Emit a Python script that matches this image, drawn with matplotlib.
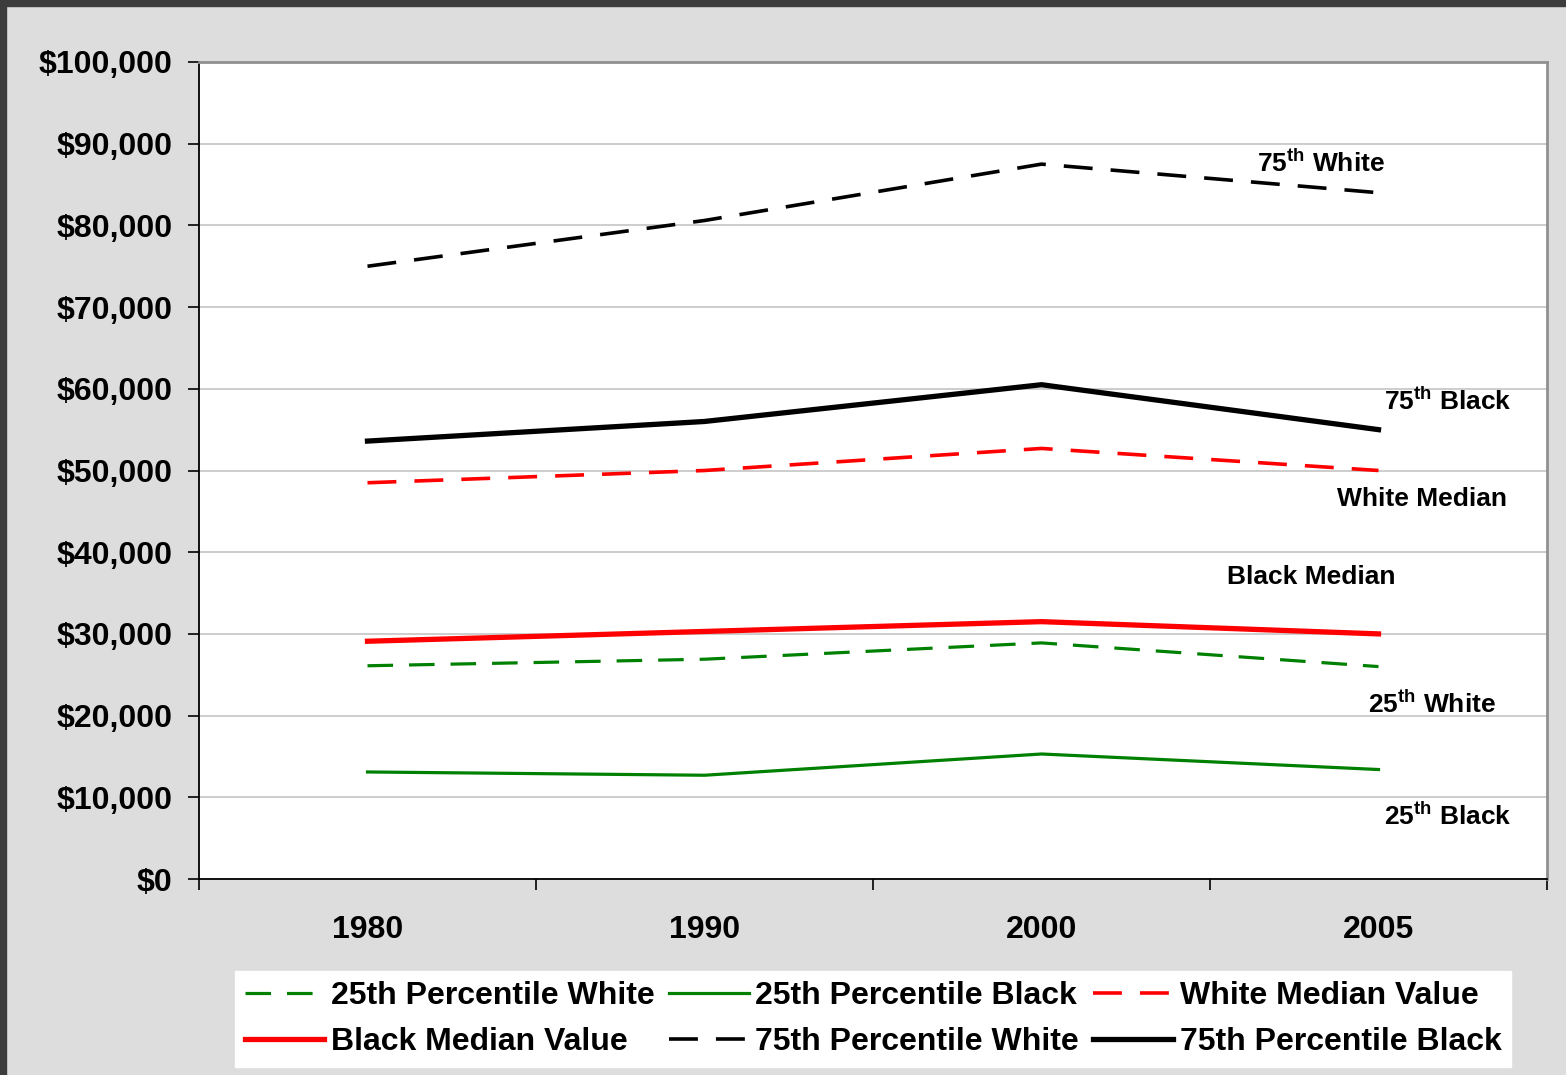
import matplotlib
matplotlib.use('Agg')
import matplotlib.pyplot as plt
from matplotlib.patches import Rectangle
from matplotlib.ticker import FuncFormatter

plt.rcParams['font.family'] = ['Liberation Sans', 'DejaVu Sans']
plt.rcParams['font.weight'] = 'bold'
plt.rcParams['mathtext.fontset'] = 'custom'
plt.rcParams['mathtext.rm'] = 'Liberation Sans:bold'
plt.rcParams['mathtext.it'] = 'Liberation Sans:bold'
plt.rcParams['mathtext.bf'] = 'Liberation Sans:bold'

years = ['1980', '1990', '2000', '2005']
p25_white = [26100, 26900, 28900, 26000]
p25_black = [13100, 12700, 15300, 13400]
white_median = [48500, 50000, 52700, 50000]
black_median = [29100, 30300, 31500, 30000]
p75_white = [75000, 80600, 87500, 84000]
p75_black = [53600, 56000, 60500, 55000]

labels = ['25th Percentile White', '25th Percentile Black', 'White Median Value',
          'Black Median Value', '75th Percentile White', '75th Percentile Black']

# end-of-line annotations (text, x category, y value)
notes = [(r'75$^{\mathrm{th}}$ White', 2.83, 87600),
         (r'75$^{\mathrm{th}}$ Black', 3.205, 58500),
         ('White Median', 3.13, 46500),
         ('Black Median', 2.80, 37000),
         (r'25$^{\mathrm{th}}$ White', 3.16, 21400),
         (r'25$^{\mathrm{th}}$ Black', 3.205, 7600)]

fig = plt.figure(figsize=(15.66, 10.75), dpi=100)
fig.patch.set_facecolor('#dddddd')
# dark frame strips at top and left
fig.patches.append(Rectangle((0, 1 - 6/1075), 1, 6/1075, transform=fig.transFigure,
                             color='#3c3c3c', zorder=0))
fig.patches.append(Rectangle((0, 0), 6/1566, 1, transform=fig.transFigure,
                             color='#3c3c3c', zorder=0))

ax = fig.add_axes([199/1566, 1 - 879/1075, 1348/1566, 817/1075])
ax.set_facecolor('white')

x = range(len(years))
dash = (0, (8, 5))
l1, = ax.plot(x, p25_white, color='#008000', lw=2.3, ls=dash)
l2, = ax.plot(x, p25_black, color='#008000', lw=2.3)
l3, = ax.plot(x, white_median, color='#ff0000', lw=2.6, ls=dash)
l4, = ax.plot(x, black_median, color='#ff0000', lw=3.8)
l5, = ax.plot(x, p75_white, color='black', lw=2.6, ls=dash)
l6, = ax.plot(x, p75_black, color='black', lw=3.8)

for txt, tx, ty in notes:
    ax.text(tx, ty, txt, ha='center', va='center', fontsize=19, fontweight='bold')

ax.set_xlim(-0.5, 3.5)
ax.set_ylim(0, 100000)
ax.set_yticks(range(0, 100001, 10000))
ax.yaxis.set_major_formatter(FuncFormatter(lambda v, p: '${:,.0f}'.format(v)))
ax.yaxis.grid(True, color='#c0c0c0', lw=1.1)
ax.set_axisbelow(True)
ax.tick_params(axis='y', length=8, width=1.2, pad=11, labelsize=23, direction='out')

ax.set_xticks([-0.5, 0.5, 1.5, 2.5, 3.5])
ax.set_xticklabels([])
ax.set_xticks(list(x), minor=True)
ax.set_xticklabels(years, minor=True)
ax.tick_params(axis='x', which='major', length=8, width=1.2, direction='out')
ax.tick_params(axis='x', which='minor', length=0, pad=26, labelsize=23)

ax.spines['left'].set_color('black')
ax.spines['bottom'].set_color('black')
ax.spines['left'].set_linewidth(1.3)
ax.spines['bottom'].set_linewidth(1.3)
ax.spines['top'].set_color('#909090')
ax.spines['right'].set_color('#909090')
ax.spines['top'].set_linewidth(2)
ax.spines['right'].set_linewidth(2)

# legend is filled column by column, so reorder to read row by row
lines = [l1, l2, l3, l4, l5, l6]
order = [0, 3, 1, 4, 2, 5]
leg = fig.legend([lines[i] for i in order], [labels[i] for i in order], loc='center',
                 bbox_to_anchor=(873/1566, 1 - 1019/1075), ncol=3,
                 fontsize=23, frameon=True, fancybox=False, framealpha=1,
                 edgecolor='white', facecolor='white', handlelength=2.5,
                 handletextpad=0.2, columnspacing=0.45, labelspacing=0.5,
                 borderpad=0.3, borderaxespad=0)
for t in leg.get_texts():
    t.set_fontweight('bold')

plt.savefig('out.png', dpi=100, facecolor=fig.get_facecolor())
